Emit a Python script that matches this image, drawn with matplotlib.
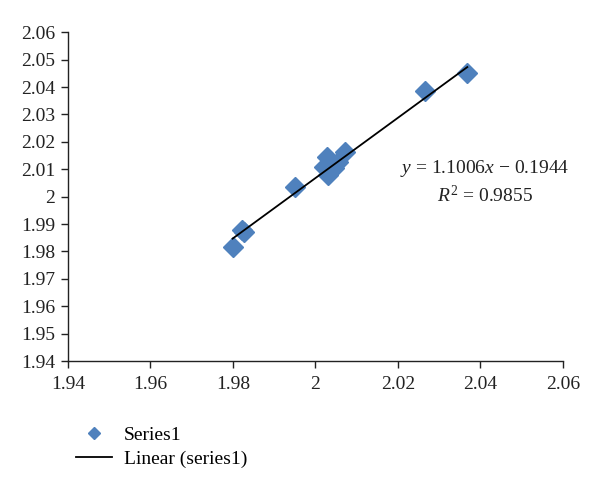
import matplotlib
matplotlib.use("Agg")
import matplotlib.pyplot as plt
import numpy as np

plt.rcParams['font.family'] = ['Liberation Serif', 'DejaVu Serif']
plt.rcParams['mathtext.fontset'] = 'custom'
plt.rcParams['mathtext.rm'] = 'Liberation Serif'
plt.rcParams['mathtext.it'] = 'Liberation Serif:italic'

x_vals = [1.9799, 1.9821, 1.9826, 1.9950, 2.0020, 2.0027, 2.0030, 2.0035,
          2.0045, 2.0055, 2.0072, 2.0265, 2.0368]
y_vals = [1.9818, 1.9880, 1.9870, 2.0036, 2.0108, 2.0145, 2.0080, 2.0120,
          2.0105, 2.0125, 2.0163, 2.0387, 2.0450]
slope = 1.1006
intercept = -0.1944
x_ticks = [1.94, 1.96, 1.98, 2.00, 2.02, 2.04, 2.06]
x_tick_labels = ['1.94', '1.96', '1.98', '2', '2.02', '2.04', '2.06']
y_ticks = [1.94, 1.95, 1.96, 1.97, 1.98, 1.99, 2.00, 2.01, 2.02, 2.03, 2.04, 2.05, 2.06]
y_tick_labels = ['1.94', '1.95', '1.96', '1.97', '1.98', '1.99', '2', '2.01',
                 '2.02', '2.03', '2.04', '2.05', '2.06']

fig = plt.figure(figsize=(6, 4.87), dpi=100)
ax = fig.add_axes([68/600, 1-361/487, (563-68)/600, (361-32.3)/487])

sc, = ax.plot(x_vals, y_vals, linestyle='none', marker='D', markersize=10,
              color='#4F81BD', label='Series1')
xl = np.array([min(x_vals), max(x_vals)])
ln, = ax.plot(xl, slope*xl + intercept, color='black', linewidth=1.3,
              label='Linear (series1)')

ax.set_xlim(1.94, 2.06)
ax.set_ylim(1.94, 2.06)
ax.set_xticks(x_ticks)
ax.set_xticklabels(x_tick_labels)
ax.set_yticks(y_ticks)
ax.set_yticklabels(y_tick_labels)
for s in ['top', 'right']:
    ax.spines[s].set_visible(False)
for s in ['left', 'bottom']:
    ax.spines[s].set_color('#222222')
    ax.spines[s].set_linewidth(1.0)
ax.tick_params(axis='both', direction='out', length=5, width=1.0,
               color='#222222', labelsize=14, labelcolor='#222222')
ax.tick_params(axis='x', pad=6)
ax.tick_params(axis='y', pad=4)

ax.text(2.0411, 2.0104, r'$y$ = 1.1006$x$ $-$ 0.1944', fontsize=14,
        ha='center', va='center', color='#222222')
ax.text(2.0411, 2.0006, r'$R^2$ = 0.9855', fontsize=14,
        ha='center', va='center', color='#222222')

fig.legend(handles=[sc, ln], loc='upper left',
           bbox_to_anchor=(58/600, 1-409/487), frameon=False,
           fontsize=14, markerscale=0.6, handlelength=1.9,
           handletextpad=0.6, labelspacing=0.3)

fig.savefig('out.png', dpi=100)
